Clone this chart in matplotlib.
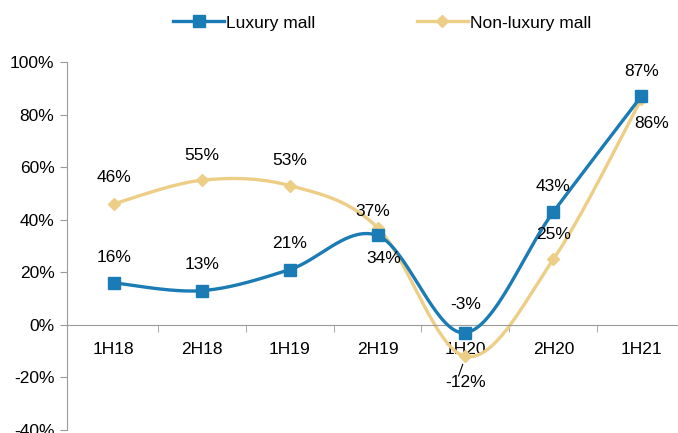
import numpy as np
import matplotlib.pyplot as plt

plt.rcParams['font.family'] = ['Liberation Sans', 'DejaVu Sans']
plt.rcParams['font.size'] = 12.5

periods = ["1H18", "2H18", "1H19", "2H19", "1H20", "2H20", "1H21"]
luxury = [16, 13, 21, 34, -3, 43, 87]
non_luxury = [46, 55, 53, 37, -12, 25, 86]

# label offsets in pixels (dx, dy), positive dy = above
lux_offsets = [(0, 25), (0, 26), (0, 26), (6, -23), (0, 28), (0, 25), (0, 25)]
non_offsets = [(0, 26), (0, 25), (0, 25), (-5, 16), (0, -26), (0, 25), (10, -25)]

blue = '#1B7BB5'
gold = '#EDCE87'


def smooth(xs, ys, n=40):
    # Bezier smoothing through every point (Catmull-Rom style tangents)
    p = np.column_stack([xs, ys]).astype(float)
    pts = np.vstack([p[0], p, p[-1]])
    out = []
    t = np.linspace(0, 1, n)[:, None]
    for i in range(1, len(pts) - 2):
        p0, p1, p2, p3 = pts[i - 1], pts[i], pts[i + 1], pts[i + 2]
        c1 = p1 + (p2 - p0) / 6
        c2 = p2 - (p3 - p1) / 6
        seg = ((1 - t) ** 3) * p1 + 3 * ((1 - t) ** 2) * t * c1 + 3 * (1 - t) * t ** 2 * c2 + t ** 3 * p2
        out.append(seg if i == 1 else seg[1:])
    out = np.vstack(out)
    return out[:, 0], out[:, 1]


fig = plt.figure(figsize=(6.78, 4.33), dpi=100)
ax = fig.add_axes([0.0988, 0.0069, 0.916, 0.850])

x = np.arange(len(periods))

sx, sy = smooth(x, non_luxury)
ax.plot(sx, sy, color=gold, lw=2.4, zorder=2)
ax.plot(x, non_luxury, 'D', color=gold, ms=6, zorder=3)
sx, sy = smooth(x, luxury)
ax.plot(sx, sy, color=blue, lw=2.4, zorder=4)
ax.plot(x, luxury, 's', color=blue, ms=8.5, zorder=5)

px = 72 / fig.dpi
for xi, v, (dx, dy) in zip(x, luxury, lux_offsets):
    ax.annotate(f"{v}%", (xi, v), xytext=(dx * px, dy * px), textcoords='offset points',
                ha='center', va='center', zorder=6)
for xi, v, (dx, dy) in zip(x, non_luxury, non_offsets):
    ax.annotate(f"{v}%", (xi, v), xytext=(dx * px, dy * px), textcoords='offset points',
                ha='center', va='center', zorder=6)
    if v == -12:
        # short leader line for the label below the dip
        ax.annotate("", (xi - 0.02, v - 2), xytext=(xi - 0.09, v - 8.5),
                    arrowprops=dict(arrowstyle='-', color='black', lw=0.8))

ax.set_xlim(-0.53, 6.53)
ax.set_ylim(-40, 100)
ax.set_yticks(np.arange(-40, 101, 20))
ax.set_yticklabels([f"{v}%" for v in range(-40, 101, 20)])
ax.set_xticks(x)
ax.set_xticklabels(periods)
ax.set_xticks(np.arange(0.5, 6.6, 1), minor=True)

for s in ['top', 'right']:
    ax.spines[s].set_visible(False)
ax.spines['bottom'].set_position(('data', 0))
ax.spines['bottom'].set_color('#9a9a9a')
ax.spines['left'].set_color('#9a9a9a')
ax.tick_params(axis='x', which='major', length=0, pad=12)
ax.tick_params(axis='x', which='minor', length=5, color='#9a9a9a', direction='out')
ax.tick_params(axis='y', length=5, color='#9a9a9a', direction='out', pad=4)

handles = [
    plt.Line2D([], [], color=blue, lw=2.4, marker='s', ms=8),
    plt.Line2D([], [], color=gold, lw=2.4, marker='D', ms=6),
]
fig.legend(handles, ["Luxury mall", "Non-luxury mall"], loc='center',
           bbox_to_anchor=(0.564, 0.947), ncol=2, frameon=False,
           handlelength=2.9, handletextpad=0.15, columnspacing=5.85)

fig.savefig("out.png", dpi=100)
